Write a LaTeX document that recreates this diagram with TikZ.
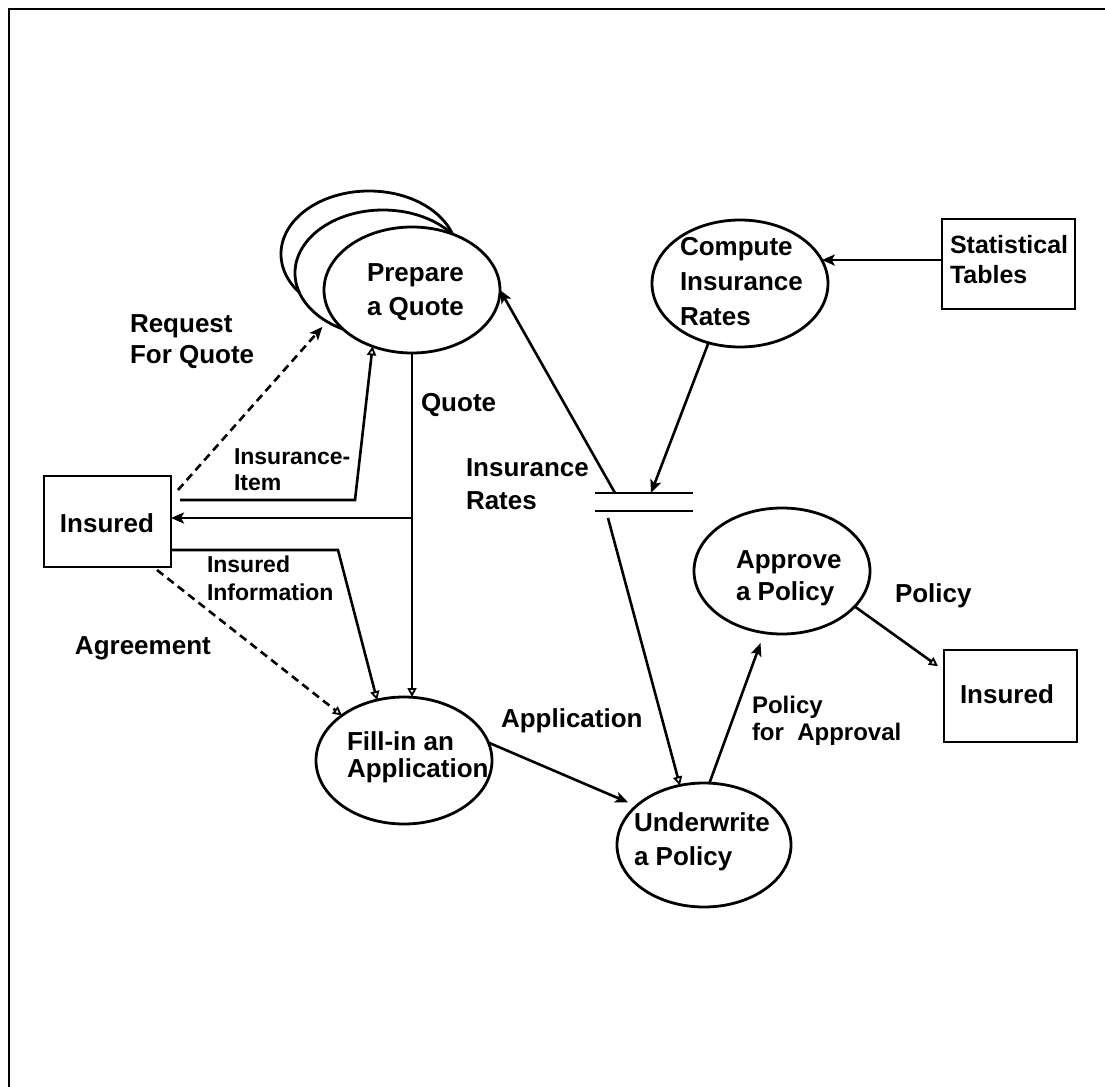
\documentclass[tikz,border=0pt]{standalone}
\usepackage{fontspec}
\setmainfont{Liberation Sans}
\usetikzlibrary{shapes.geometric,arrows.meta,calc}

\tikzset{
  proc/.style={ellipse, draw, line width=1.4pt, fill=white, inner sep=0pt, outer sep=0pt},
  ent/.style={rectangle, draw, line width=1pt, inner sep=0pt, outer sep=0pt},
  txt/.style={inner sep=0pt, outer sep=0pt, align=left, anchor=base west,
              font=\bfseries\fontsize{13}{#1}\selectfont},
  txt/.default=16.5,
  stxt/.style={inner sep=0pt, outer sep=0pt, align=left, anchor=base west,
              font=\bfseries\fontsize{11.5}{#1}\selectfont},
  stxt/.default=13.5,
  flow/.style={line width=1.3pt, -{Stealth[length=6.5pt,width=5.5pt,inset=1.5pt]}},
  oflow/.style={line width=1.3pt, -{Triangle[open,length=4.5pt,width=4.5pt,line width=0.9pt]}},
  dflow/.style={line width=1.3pt, dash pattern=on 4pt off 2.6pt},
  store/.style={line width=1pt},
  frame/.style={line width=1.2pt}
}

\begin{document}
\begin{tikzpicture}[x=0.5pt,y=-0.5pt]
\useasboundingbox (0,0) rectangle (1105,1087);

% page frame (top and left edges)
\draw[frame] (9,1087) -- (9,9) -- (1105,9);

% processes
\node[proc, minimum width=88pt, minimum height=63pt] (pq3) at (369,254) {};
\node[proc, minimum width=88pt, minimum height=63pt] (pq2) at (383,273) {};
\node[proc, minimum width=88pt, minimum height=63pt] (pq)  at (412,290) {};
\node[proc, minimum width=88pt, minimum height=63.5pt] (cir) at (740,283.5) {};
\node[proc, minimum width=88pt, minimum height=63.5pt] (fia) at (404,760.5) {};
\node[proc, minimum width=87pt, minimum height=62pt] (uwp) at (704,845) {};
\node[proc, minimum width=88pt, minimum height=63pt] (app) at (782,571) {};

% process names (anchored at the baseline of their last line)
\node[txt=17]   (pqt)  at (367,315) {Prepare\\a Quote};
\node[txt=17.5] (cirt) at (680,325) {Compute\\Insurance\\Rates};
\node[txt=13.5] (fiat) at (347,777) {Fill-in an\\Application};
\node[txt=17]   (uwpt) at (634,865) {Underwrite\\a Policy};
\node[txt=16]   (appt) at (736,600) {Approve\\a Policy};

% external entities
\node[ent, minimum width=66.5pt, minimum height=45pt] (stat) at (1008.5,264) {};
\node[ent, minimum width=63.5pt, minimum height=45.5pt] (ins1) at (107.5,521.5) {};
\node[ent, minimum width=66.5pt, minimum height=46pt] (ins2) at (1010.5,696) {};

\node[inner sep=0pt, outer sep=0pt, align=left, anchor=base west,
      font=\bfseries\fontsize{12.5}{15}\selectfont] (statt) at (950,283) {Statistical\\Tables};
\node[txt] (ins1t) at (60,532) {Insured};
\node[txt] (ins2t) at (960,703) {Insured};

% data store
\coordinate (s1w) at (595,493);
\coordinate (s1e) at (693,493);
\coordinate (s2w) at (595,511);
\coordinate (s2e) at (693,511);
\draw[store] (s1w) -- (s1e);
\draw[store] (s2w) -- (s2e);

% connector end points and bends
\coordinate (sA)  at (651,493);
\coordinate (sB)  at (615,493);
\coordinate (sC)  at (608,518);
\coordinate (qj)  at (412,518);
\coordinate (iiS) at (180,500);
\coordinate (iiC) at (355,500);
\coordinate (rqS) at (178,490);
\coordinate (ifC) at (338,550);
\coordinate (agS) at (157,570);

% flows
\draw[flow] (stat.west |- cir.16) -- (cir.16);
\draw[flow] (cir.242) -- (sA);
\draw[flow] (sB) -- (pq.east);
\draw[oflow] (sC) -- (uwp.112);
\draw[flow, shorten >=4.5pt] (fia.12) -- (uwp.150);
\draw[flow, shorten >=5.5pt] (uwp.85) -- (app.254);
\draw[oflow, shorten >=3.7pt] (app.-26) -- (ins2.159);
\draw[oflow] (pq.south) -- (pq.south |- fia.north);
\draw[flow] (qj) -- (qj -| ins1.east);
\draw[oflow] (iiS) -- (iiC) -- (pq.235);
\draw[dflow, -{Stealth[length=6.5pt,width=5.5pt,inset=1.5pt]}, shorten >=3.5pt] (rqS) -- (pq2.221);
\draw[oflow] (ins1.east |- ifC) -- (ifC) -- (fia.114);
\draw[dflow, -{Triangle[open,length=4.5pt,width=4.5pt,line width=0.9pt]}] (agS) -- (fia.144);

% flow labels (anchored at the baseline of their last line)
\node[txt=15.5] (lrq) at (130,363) {Request\\For Quote};
\node[txt] (lq)  at (421,411) {Quote};
\node[stxt=13] (lii) at (234,490) {Insurance-\\Item};
\node[stxt=14] (lif) at (207,600) {Insured\\Information};
\node[txt] (lag) at (75,654) {Agreement};
\node[txt=16.5] (lir) at (466,509) {Insurance\\Rates};
\node[txt] (lap) at (501,727) {Application};
\node[txt] (lpo) at (895,602) {Policy};
\node[inner sep=0pt, outer sep=0pt, align=left, anchor=base west,
      font=\bfseries\fontsize{12}{13.5}\selectfont] (lpa) at (752,740) {Policy\\for\ \ Approval};
\end{tikzpicture}
\end{document}
